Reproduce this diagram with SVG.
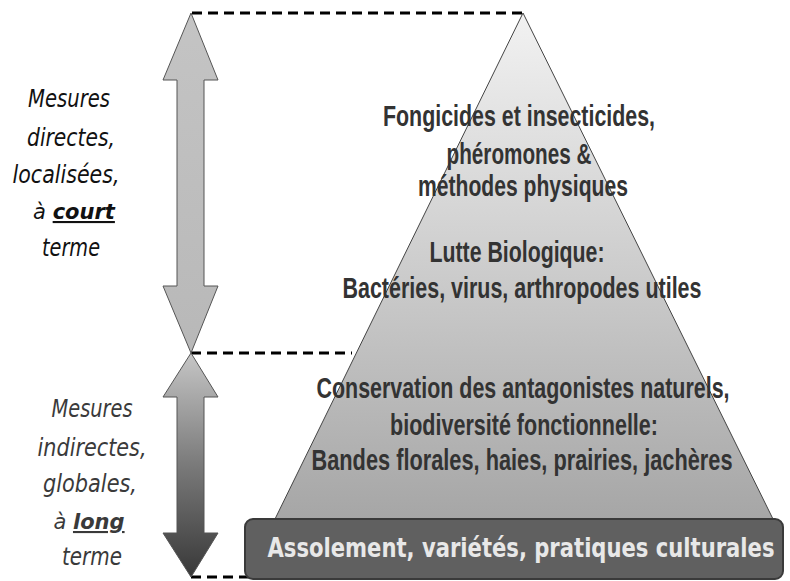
<svg xmlns="http://www.w3.org/2000/svg" width="790" height="581" viewBox="0 0 790 581">
<defs>
<linearGradient id="gPyr" x1="0" y1="0" x2="0" y2="1">
<stop offset="0" stop-color="#f2f2f2"/>
<stop offset="0.5" stop-color="#cdcdcd"/>
<stop offset="1" stop-color="#a6a6a6"/>
</linearGradient>
<linearGradient id="gUp" x1="0" y1="0" x2="0" y2="1">
<stop offset="0" stop-color="#c4c4c4"/>
<stop offset="1" stop-color="#b8b8b8"/>
</linearGradient>
<linearGradient id="gDown" x1="0" y1="0" x2="0" y2="1">
<stop offset="0" stop-color="#c6c6c6"/>
<stop offset="0.5" stop-color="#7a7a7a"/>
<stop offset="1" stop-color="#383838"/>
</linearGradient>
<style>
.dash{stroke:#000;stroke-width:3;stroke-dasharray:10 6;fill:none}
.arrow{stroke:#555;stroke-width:1}
.pt{font-family:"Liberation Sans Narrow","Liberation Sans",Arial,sans-serif;font-weight:bold;font-size:29px;fill:#333;text-anchor:middle}
.lt{font-family:"DejaVu Sans",sans-serif;font-style:italic;font-size:25px;fill:#111;text-anchor:middle}
.lt2{fill:#3a3a3a}
.sm{font-size:21px}
.bt{font-family:"DejaVu Sans",sans-serif;font-weight:bold;font-size:26px;fill:#e8e8e8;text-anchor:middle}
</style>
</defs>
<g id="pyramid">
<polygon points="523,13 773,519 275,519" fill="url(#gPyr)" stroke="#444" stroke-width="1"/>
</g>
<g id="connectors">
<line class="dash" x1="192" y1="13" x2="523" y2="13"/>
<line class="dash" x1="191" y1="353" x2="352" y2="353"/>
<line class="dash" x1="191" y1="577" x2="250" y2="577"/>
</g>
<g id="arrow-court">
<polygon class="arrow" fill="url(#gUp)" points="191,13 218,80 204,80 204,286 218,286 191,353 163,286 177,286 177,80 163,80"/>
</g>
<g id="arrow-long">
<polygon class="arrow" fill="url(#gDown)" points="191,353 218,397 204,397 204,533 218,533 191,577 163,533 177,533 177,397 163,397"/>
</g>
<g id="level-chimique">
<text class="pt" x="519" y="126" textLength="272" lengthAdjust="spacingAndGlyphs">Fongicides et insecticides,</text>
<text class="pt" x="519" y="164" textLength="145" lengthAdjust="spacingAndGlyphs">phéromones &amp;</text>
<text class="pt" x="523" y="196" textLength="210" lengthAdjust="spacingAndGlyphs">méthodes physiques</text>
</g>
<g id="level-biologique">
<text class="pt" x="517" y="262" textLength="175" lengthAdjust="spacingAndGlyphs">Lutte Biologique:</text>
<text class="pt" x="522" y="298" textLength="359" lengthAdjust="spacingAndGlyphs">Bactéries, virus, arthropodes utiles</text>
</g>
<g id="level-conservation">
<text class="pt" x="523" y="398" textLength="413" lengthAdjust="spacingAndGlyphs">Conservation des antagonistes naturels,</text>
<text class="pt" x="524" y="435" textLength="268" lengthAdjust="spacingAndGlyphs">biodiversité fonctionnelle:</text>
<text class="pt" x="522" y="470" textLength="421" lengthAdjust="spacingAndGlyphs">Bandes florales, haies, prairies, jachères</text>
</g>
<g id="base">
<rect x="245" y="519" width="538" height="60" rx="8" fill="#606060" stroke="#3a3a3a" stroke-width="2"/>
<text class="bt" x="521" y="557" textLength="507" lengthAdjust="spacingAndGlyphs">Assolement, variétés, pratiques culturales</text>
</g>
<g id="label-court">
<text class="lt" x="69" y="107" textLength="82" lengthAdjust="spacingAndGlyphs">Mesures</text>
<text class="lt" x="71" y="146" textLength="88" lengthAdjust="spacingAndGlyphs">directes,</text>
<text class="lt" x="66" y="183" textLength="107" lengthAdjust="spacingAndGlyphs">localisées,</text>
<text class="lt sm" x="74" y="219">à <tspan font-weight="bold" text-decoration="underline">court</tspan></text>
<text class="lt" x="71" y="256" textLength="58" lengthAdjust="spacingAndGlyphs">terme</text>
</g>
<g id="label-long">
<text class="lt lt2" x="92" y="417" textLength="81" lengthAdjust="spacingAndGlyphs">Mesures</text>
<text class="lt lt2" x="92" y="456" textLength="109" lengthAdjust="spacingAndGlyphs">indirectes,</text>
<text class="lt lt2" x="90" y="492" textLength="94" lengthAdjust="spacingAndGlyphs">globales,</text>
<text class="lt lt2 sm" x="89" y="529">à <tspan font-weight="bold" text-decoration="underline">long</tspan></text>
<text class="lt lt2" x="92" y="565" textLength="60" lengthAdjust="spacingAndGlyphs">terme</text>
</g>
</svg>
